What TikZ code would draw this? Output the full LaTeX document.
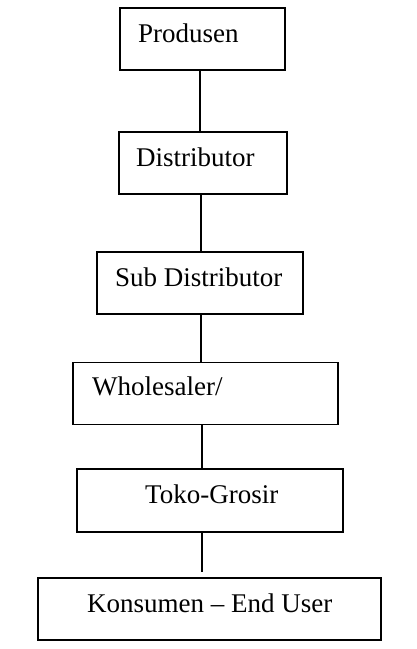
\documentclass[tikz,border=0pt]{standalone}
\usepackage{fontspec}
\setmainfont{Liberation Serif}
\begin{document}
\begin{tikzpicture}[x=1pt,y=-1pt,
  box/.style={draw,line width=1.3pt,inner sep=0pt,minimum width=#1},
  lbl/.style={anchor=base west,inner sep=0pt,font=\fontsize{27}{30}\selectfont},
  conn/.style={line width=1.3pt}]
\useasboundingbox (0,0) rectangle (417,649);
% boxes: center x, center y, width, height
\node[box=165pt,minimum height=62pt] (p) at (202.5,39) {};
\node[box=168pt,minimum height=62pt] (d) at (203,163) {};
\node[box=206pt,minimum height=62pt] (s) at (200,283) {};
\node[box=265pt,minimum height=62pt] (w) at (205.5,393.5) {};
\node[box=266pt,minimum height=63pt] (t) at (210,500.5) {};
\node[box=343pt,minimum height=62pt] (k) at (209.5,609) {};
% labels
\node[lbl] (tp) at (138,42) {Produsen};
\node[lbl] (td) at (136,166) {Distributor};
\node[lbl] (ts) at (115,286) {Sub Distributor};
\node[lbl] (tw) at (92,395) {Wholesaler/};
\node[lbl] (tt) at (145,503) {Toko-Grosir};
\node[lbl] (tk) at (87,612) {Konsumen -- End User};
% connectors
\coordinate (kend) at (202,572);
\draw[conn] (p.south -| 200,0) -- (d.north -| 200,0);
\draw[conn] (d.south -| 201,0) -- (s.north -| 201,0);
\draw[conn] (s.south -| 201,0) -- (w.north -| 201,0);
\draw[conn] (w.south -| 202,0) -- (t.north -| 202,0);
\draw[conn] (t.south -| 202,0) -- (kend);
\end{tikzpicture}
\end{document}
